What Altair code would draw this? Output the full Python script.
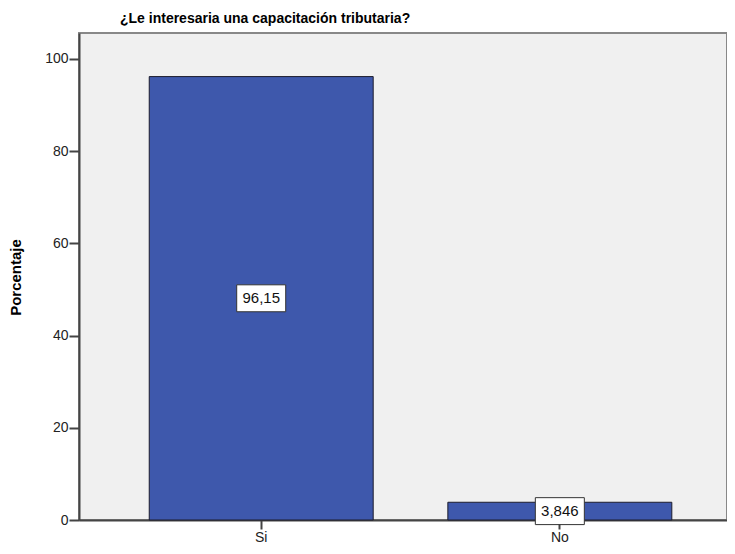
import altair as alt
import pandas as pd

categories = ["Si", "No"]
values = [96.15, 3.846]
labels = ["96,15", "3,846"]

df = pd.DataFrame({"cat": categories, "pct": values, "lab": labels})
df["mid"] = df["pct"] / 2

FONT = "Liberation Sans, Arial"

x = alt.X("cat:N", sort=categories,
          scale=alt.Scale(paddingInner=0.25, paddingOuter=0.21, align=0.56),
          axis=alt.Axis(title=None, labelAngle=0, labelFontSize=14, labelFont=FONT,
                        labelColor="#222", tickSize=9, tickColor="#444", tickWidth=2,
                        labelPadding=1, domainColor="#444", domainWidth=2))
yscale = alt.Scale(domain=[0, 105.6], nice=False, zero=True)

bars = alt.Chart(df).mark_bar(color="#3E58AC", stroke="#1c1c2c", strokeWidth=1).encode(
    x=x,
    y=alt.Y("pct:Q", scale=yscale,
            axis=alt.Axis(title="Porcentaje", values=[0, 20, 40, 60, 80, 100],
                          grid=False, labelFontSize=14, labelFont=FONT, labelColor="#222",
                          tickSize=10, tickColor="#444", tickWidth=2, labelPadding=1,
                          domainColor="#444", domainWidth=2,
                          titleFont=FONT, titleFontSize=15, titleFontWeight="bold",
                          titleColor="#000", titleX=-56, titleY=244)),
)

boxes = alt.Chart(df).mark_point(
    shape="M-1,-0.55L1,-0.55L1,0.55L-1,0.55Z", filled=True, fill="white",
    stroke="#333", strokeWidth=1, opacity=1, size=2401,
).encode(x=alt.X("cat:N", sort=categories), y=alt.Y("mid:Q", scale=yscale))

texts = alt.Chart(df).mark_text(font=FONT, fontSize=15, color="#111").encode(
    x=alt.X("cat:N", sort=categories), y=alt.Y("mid:Q", scale=yscale), text="lab:N"
)

chart = (bars + boxes + texts).properties(
    width=648, height=487,
    title=alt.TitleParams("¿Le interesaria una capacitación tributaria?", anchor="start",
                          frame="group", dx=41, offset=7, font=FONT, fontSize=14,
                          fontWeight="bold", color="#000"),
).configure(padding={"top": 4, "left": 0, "right": 0, "bottom": 0}).configure_view(
    fill="#F0F0F0", stroke="#888", strokeWidth=2)

chart.save("out.html", embed_options={"renderer": "svg", "actions": False})
